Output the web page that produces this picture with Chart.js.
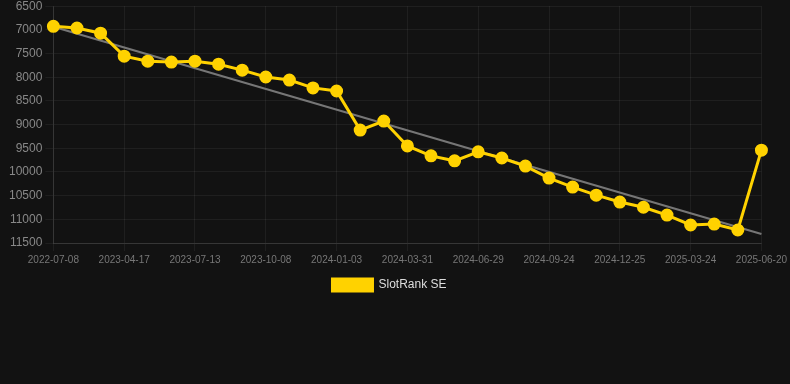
<!DOCTYPE html>
<html>
<head>
<meta charset="utf-8">
<script src="https://cdn.jsdelivr.net/npm/chart.js@4"></script>
<style>
  html, body { margin: 0; padding: 0; background: #121212; overflow: hidden; }
  #wrap { width: 790px; height: 305px; position: relative; top: -4px; }
</style>
</head>
<body>
<div id="wrap"><canvas id="c"></canvas></div>
<script>
const categories = [
  '2022-07-08','2023-02-17','2023-03-19','2023-04-17','2023-05-16','2023-06-14',
  '2023-07-13','2023-08-11','2023-09-09','2023-10-08','2023-11-06','2023-12-05',
  '2024-01-03','2024-02-01','2024-03-01','2024-03-31','2024-04-30','2024-05-30',
  '2024-06-29','2024-07-28','2024-08-26','2024-09-24','2024-10-24','2024-11-24',
  '2024-12-25','2025-01-23','2025-02-22','2025-03-24','2025-04-22','2025-05-21',
  '2025-06-20'
];
const rankValues = [
  6925, 6960, 7070, 7555, 7660, 7680, 7660, 7725, 7850, 7995, 8060, 8225,
  8290, 9115, 8925, 9450, 9660, 9765, 9575, 9705, 9875, 10130, 10320, 10490,
  10635, 10745, 10910, 11120, 11100, 11225, 9540
];
const trendValues = [6935].concat(new Array(29).fill(null), [11310]);
const seriesName = 'SlotRank SE';

Chart.defaults.font.family = '"Liberation Sans", Arial, sans-serif';

new Chart(document.getElementById('c'), {
  type: 'line',
  data: {
    labels: categories,
    datasets: [
      {
        label: seriesName,
        data: rankValues,
        borderColor: '#ffd200',
        backgroundColor: '#ffd200',
        borderWidth: 3,
        pointRadius: 5,
        pointBackgroundColor: '#ffd200',
        pointBorderColor: '#ffd200',
        tension: 0,
        order: 0
      },
      {
        label: 'trend',
        data: trendValues,
        spanGaps: true,
        borderColor: 'rgba(130,130,130,0.9)',
        borderWidth: 2,
        pointRadius: 0,
        tension: 0,
        order: 1
      }
    ]
  },
  options: {
    responsive: true,
    maintainAspectRatio: false,
    animation: false,
    layout: { padding: { left: 6, right: 17 } },
    plugins: {
      tooltip: { enabled: false },
      legend: {
        position: 'bottom',
        labels: {
          color: '#dddddd',
          boxWidth: 40,
          boxHeight: 12,
          font: { size: 12 },
          filter: (item) => item.datasetIndex === 0
        }
      }
    },
    scales: {
      x: {
        grid: { color: 'rgba(255,255,255,0.06)' },
        border: { color: 'rgba(255,255,255,0.1)' },
        ticks: { color: '#777777', font: { size: 10 }, maxRotation: 0, autoSkip: true }
      },
      y: {
        reverse: true,
        min: 6500,
        max: 11500,
        grid: { color: 'rgba(255,255,255,0.06)' },
        border: { color: 'rgba(255,255,255,0.1)' },
        ticks: {
          color: '#888888',
          font: { size: 12 },
          stepSize: 500,
          callback: (v) => String(v)
        }
      }
    }
  }
});
</script>
</body>
</html>
